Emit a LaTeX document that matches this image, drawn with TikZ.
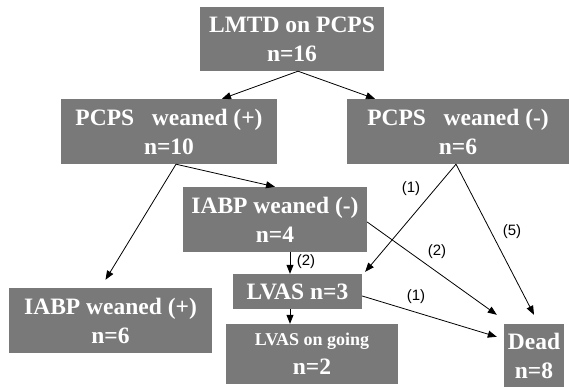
\documentclass[tikz,border=0pt]{standalone}
\usepackage{fontspec}
\setmainfont{Liberation Serif}
\newfontfamily\boxfont{Liberation Serif}
\newfontfamily\lblfont{Liberation Sans}
\usetikzlibrary{calc,positioning,arrows.meta}
\definecolor{boxgray}{RGB}{121,121,121}
\begin{document}
\begin{tikzpicture}[x=1pt,y=-1pt,
    box/.style={fill=boxgray,text=white,inner sep=0pt,align=center,
      font=\boxfont\bfseries\fontsize{23.5}{29}\selectfont},
    arr/.style={-{Triangle[length=9pt,width=7pt]},line width=0.8pt,black},
    lbl/.style={font=\lblfont\fontsize{15}{17}\selectfont,inner sep=0pt}]
      \useasboundingbox (0,0) rectangle (569,387);
      \node[box,minimum width=184pt,minimum height=64pt] (lmtd) at (292,39) {LMTD on PCPS\\n=16};
      \node[box,minimum width=216pt,minimum height=65pt] (pcpsp) at (169,131.5) {PCPS\hspace{0.75em}weaned (+)\\n=10};
      \node[box,minimum width=222pt,minimum height=65pt] (pcpsm) at (458,131.5) {PCPS\hspace{0.75em}weaned (-)\\n=6};
      \node[box,minimum width=184pt,minimum height=65pt] (iabpm) at (275,219.5) {IABP weaned (-)\\n=4};
      \node[box,minimum width=129pt,minimum height=35pt] (lvas) at (297.5,291.5) {LVAS n=3};
      \node[box,minimum width=203pt,minimum height=65pt] (iabpp) at (110.5,320.5) {IABP weaned (+)\\n=6};
      \node[box,minimum width=172pt,minimum height=60pt] (going) at (312,354) {{\fontsize{18}{22}\selectfont LVAS on going}\\n=2};
      \node[box,minimum width=60pt,minimum height=63pt] (dead) at (534,355.5) {Dead\\n=8};
      \draw[arr] ([xshift=6pt]lmtd.south) -- ([xshift=53pt]pcpsp.north);
      \draw[arr] ([xshift=6pt]lmtd.south) -- ([xshift=-83pt]pcpsm.north);
      \draw[arr] ([xshift=7pt]pcpsp.south) -- (iabpm.north);
      \draw[arr] ([xshift=7pt]pcpsp.south) -- ([shift={(-5pt,8pt)}]iabpp.north);
      \draw[arr] ([xshift=-2pt]pcpsm.south) -- ([shift={(3pt,2pt)}]lvas.north east);
      \draw[arr] ([xshift=-2pt]pcpsm.south) -- ([yshift=9pt]dead.north);
      \draw[arr] ([yshift=-2.5pt]iabpm.east) -- ([shift={(-7pt,9pt)}]dead.north west);
      \draw[arr] ([xshift=15pt]iabpm.south) -- ([xshift=15pt]iabpm.south |- lvas.north);
      \draw[arr] ([yshift=-4.5pt]lvas.east) -- ([shift={(-7pt,-13pt)}]dead.north west);
      \draw[arr] ([xshift=-7.5pt]lvas.south) -- ([xshift=-7.5pt]lvas.south |- going.north);
      \node[lbl] (l1) at (411,189) {(1)};
      \node[lbl] (l5) at (512,232) {(5)};
      \node[lbl] (l2) at (437,252) {(2)};
      \node[lbl] (l2b) at (306,262) {(2)};
      \node[lbl] (l1b) at (416,297) {(1)};
\end{tikzpicture}
\end{document}
